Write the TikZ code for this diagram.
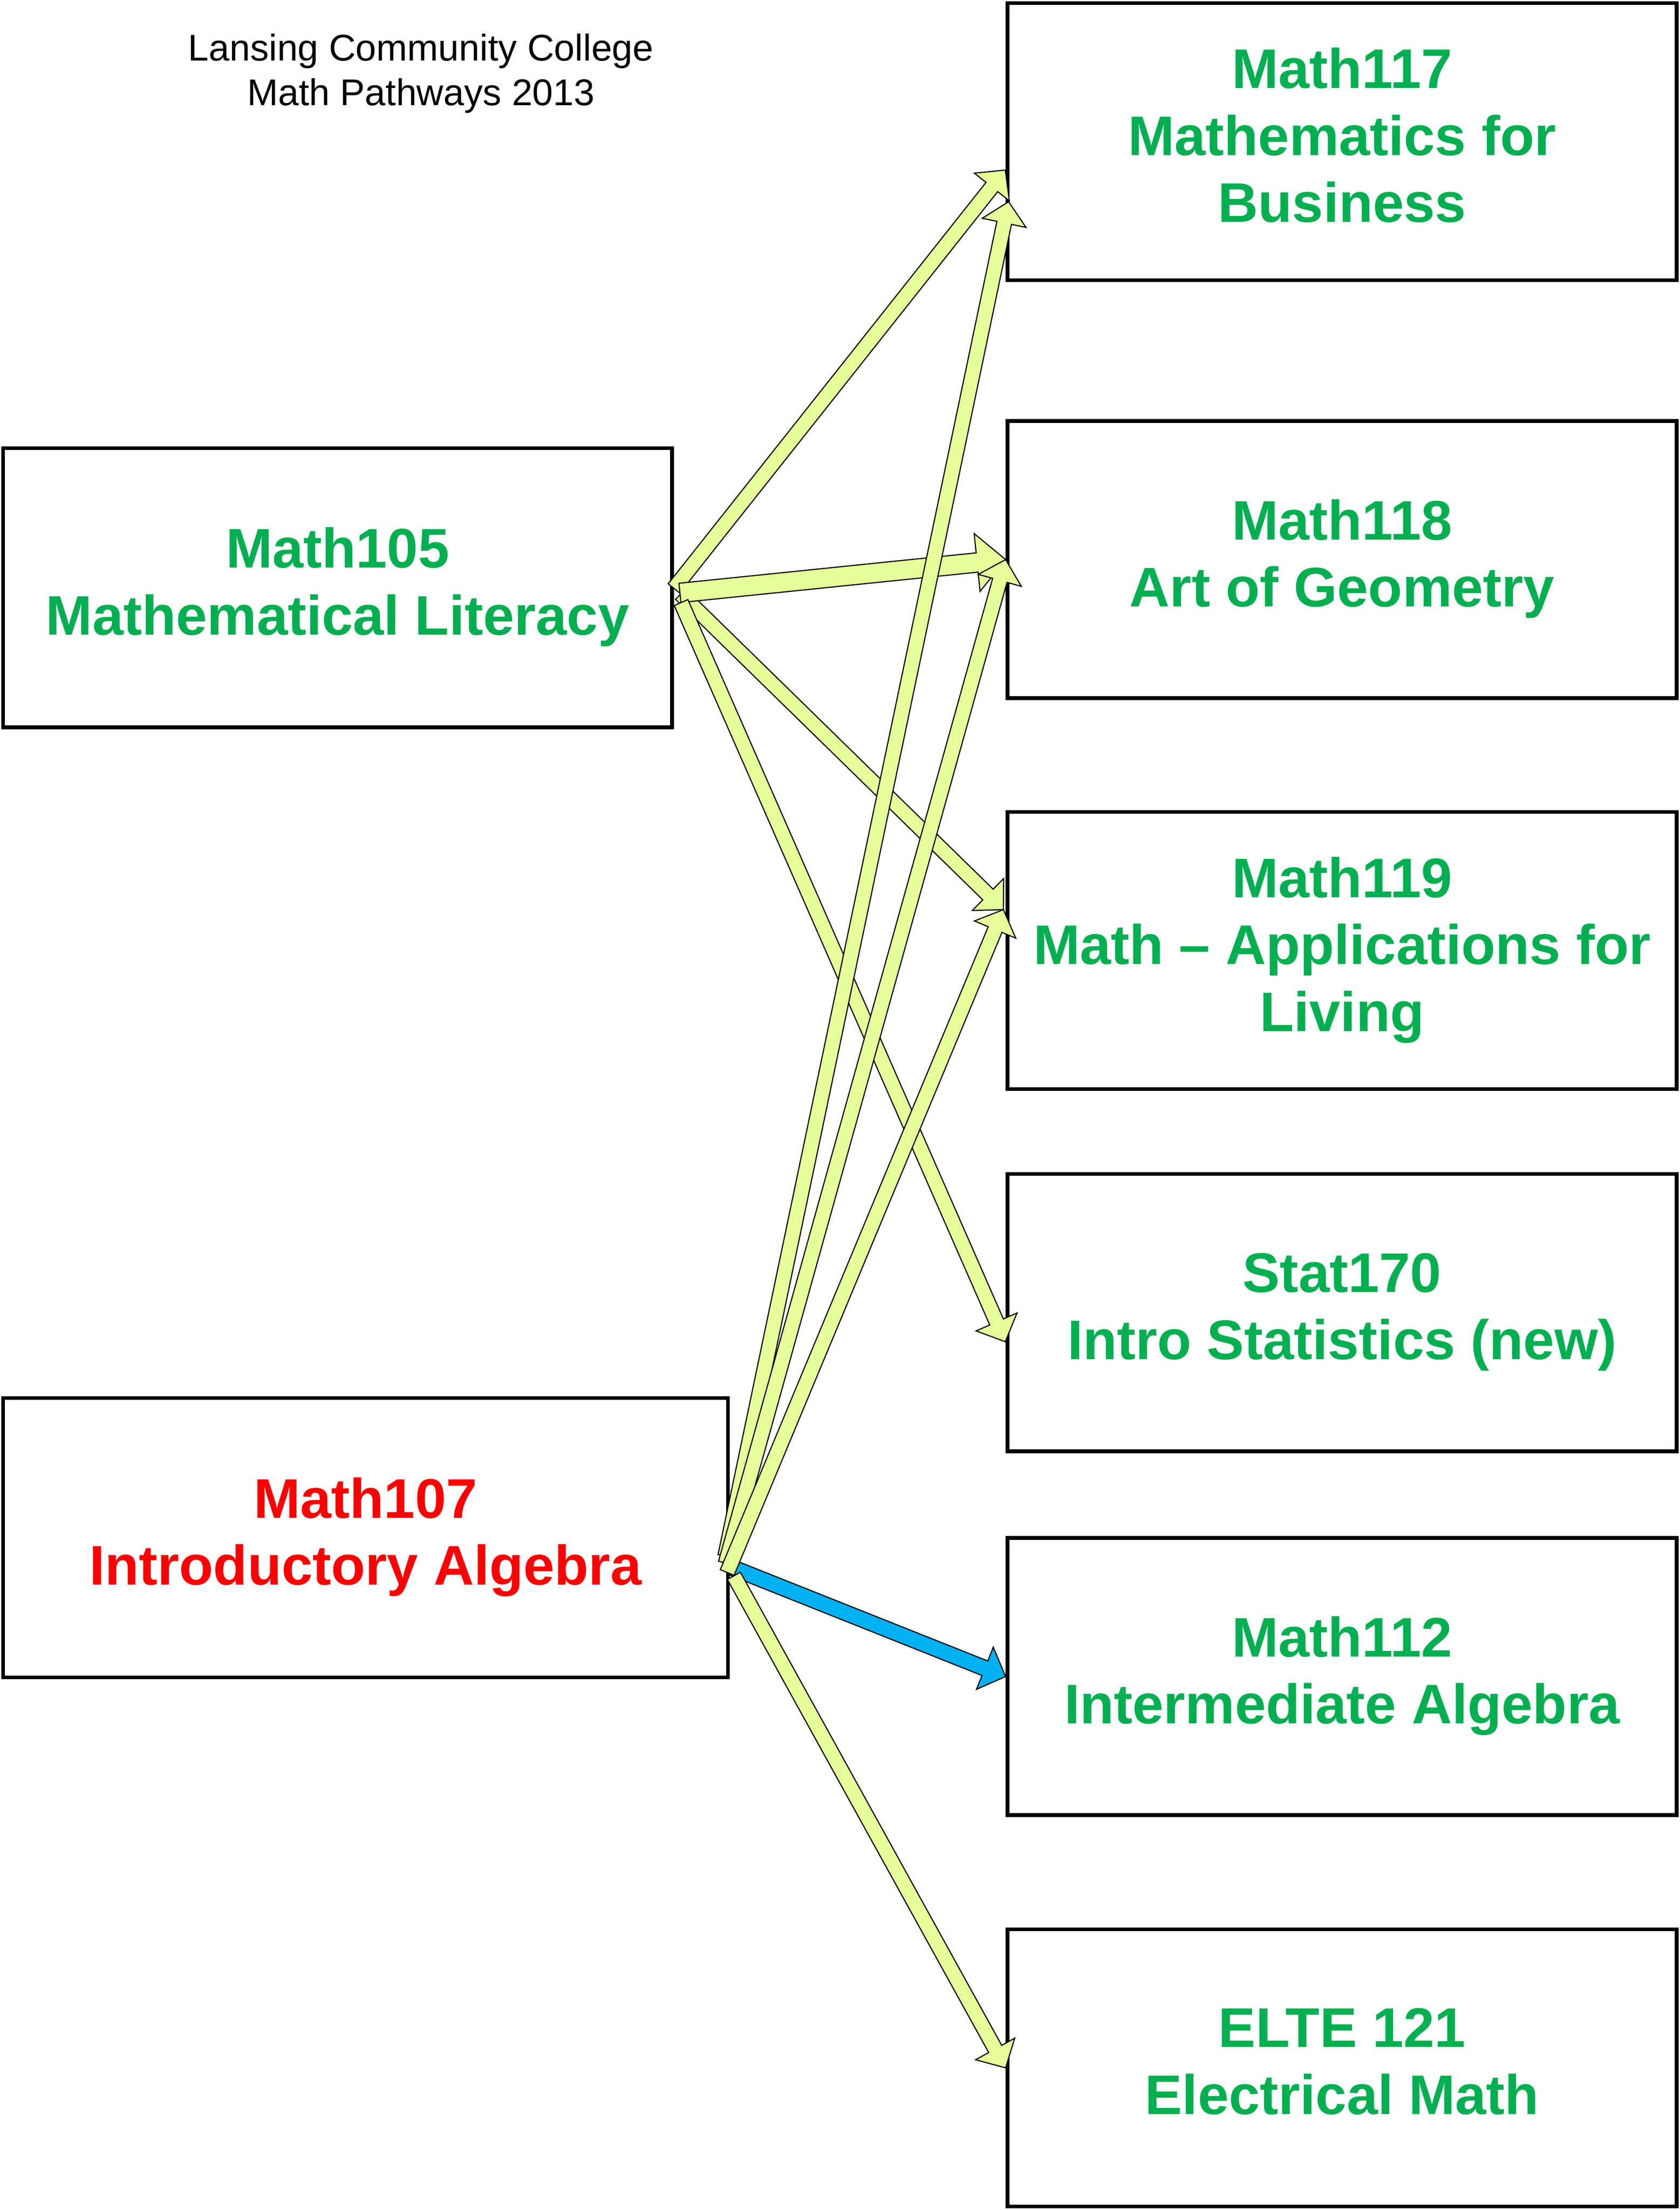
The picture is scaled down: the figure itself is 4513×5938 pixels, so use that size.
\documentclass[tikz,border=0pt]{standalone}
\usepackage{fontspec}
\setmainfont{Liberation Sans}
\usetikzlibrary{calc}
\definecolor{boxgreen}{RGB}{0,176,80}
\definecolor{boxred}{RGB}{255,0,0}
\definecolor{arrowfill}{RGB}{229,255,153}
\definecolor{arrowblue}{RGB}{0,176,240}
% #1 style, #2 tail coordinate, #3 tip coordinate, #4 half shaft width, #5 half head width, #6 head length
\newcommand{\blockarr}[6]{%
  \coordinate (bhead) at ($(#3)!#6!(#2)$);
  \filldraw[#1] ($(#2)!#4!90:(#3)$) -- ($(bhead)!#4!90:(#3)$) -- ($(bhead)!#5!90:(#3)$) -- (#3)
    -- ($(bhead)!#5!-90:(#3)$) -- ($(bhead)!#4!-90:(#3)$) -- ($(#2)!#4!-90:(#3)$) -- cycle;}
\tikzset{
  course/.style={draw, line width=1pt, rectangle, inner sep=0pt, align=center,
    font=\fontsize{15}{18}\selectfont\bfseries, text=boxgreen,
    minimum width=179.8pt, minimum height=74.5pt,
    execute at begin node={\rule{0pt}{12.5pt}},
    execute at end node={\rule[-3.5pt]{0pt}{3.5pt}}},
  yarrow/.style={fill=arrowfill, draw=black, line width=0.3pt, line join=miter},
  barrow/.style={fill=arrowblue, draw=black, line width=0.3pt, line join=miter}
}
\begin{document}
\begin{tikzpicture}[x=0.1pt,y=-0.1pt]
\useasboundingbox (0,0) rectangle (4513,5938);
\node[font=\fontsize{10}{12}\selectfont, align=center, inner sep=0pt] (title) at (1131,197)
  {Lansing Community College\\Math Pathways 2013};

\node[course] (m117) at (3606,380.5) {Math117\\Mathematics for\\Business};
\node[course] (m118) at (3606,1503.5) {Math118\\Art of Geometry};
\node[course] (m119) at (3606,2554) {Math119\\Math -- Applications for\\Living};
\node[course] (m170) at (3606,3527) {Stat170\\Intro Statistics (new)};
\node[course] (m112) at (3606,4504.5) {Math112\\Intermediate Algebra};
\node[course] (m121) at (3606,5556) {ELTE 121\\Electrical Math};

\node[course, minimum height=75pt] (m105) at (907,1579) {Math105\\Mathematical Literacy};
\node[course, text=boxred, minimum width=194.8pt, minimum height=75.1pt] (m107) at (982,4131.5) {Math107\\Introductory Algebra};

% tails on Math105
\coordinate (a1s) at ($(m105.east)+(0,2)$);
\coordinate (a2s) at ($(m105.east)+(16,14)$);
\coordinate (a3s) at ($(m105.east)+(18,17)$);
\coordinate (a4s) at ($(m105.east)+(19,40)$);
% tails on Math107
\coordinate (b1s) at ($(m107.east)+(-12,49.5)$);
\coordinate (b2s) at ($(m107.east)+(-11,68.5)$);
\coordinate (bls) at ($(m107.east)+(9,81.5)$);
\coordinate (b3s) at ($(m107.east)+(-7,93.5)$);
\coordinate (b4s) at ($(m107.east)+(11,102.5)$);
% tips
\coordinate (t117a) at ($(m117.west)+(-1,76.5)$);
\coordinate (t117b) at ($(m117.west)+(8,161.5)$);
\coordinate (t118) at (m118.west);
\coordinate (t119) at ($(m119.west)+(-6,-110)$);
\coordinate (t170) at ($(m170.west)+(-1,78)$);
\coordinate (t112) at (m112.west);
\coordinate (t121) at (m121.west);

\blockarr{yarrow}{a1s}{t117a}{2pt}{6pt}{5.8pt}
\blockarr{yarrow}{a3s}{t119}{2pt}{6pt}{5.8pt}
\blockarr{yarrow}{a2s}{t118}{2.6pt}{7.8pt}{7.7pt}
\blockarr{yarrow}{a4s}{t170}{2pt}{6pt}{5.8pt}
\blockarr{yarrow}{b1s}{t117b}{2pt}{6pt}{5.8pt}
\blockarr{yarrow}{b2s}{t118}{2pt}{6pt}{5.8pt}
\blockarr{barrow}{bls}{t112}{2.1pt}{6.1pt}{6pt}
\blockarr{yarrow}{b3s}{t119}{2pt}{6pt}{5.8pt}
\blockarr{yarrow}{b4s}{t121}{2pt}{6pt}{5.8pt}
\end{tikzpicture}
\end{document}
